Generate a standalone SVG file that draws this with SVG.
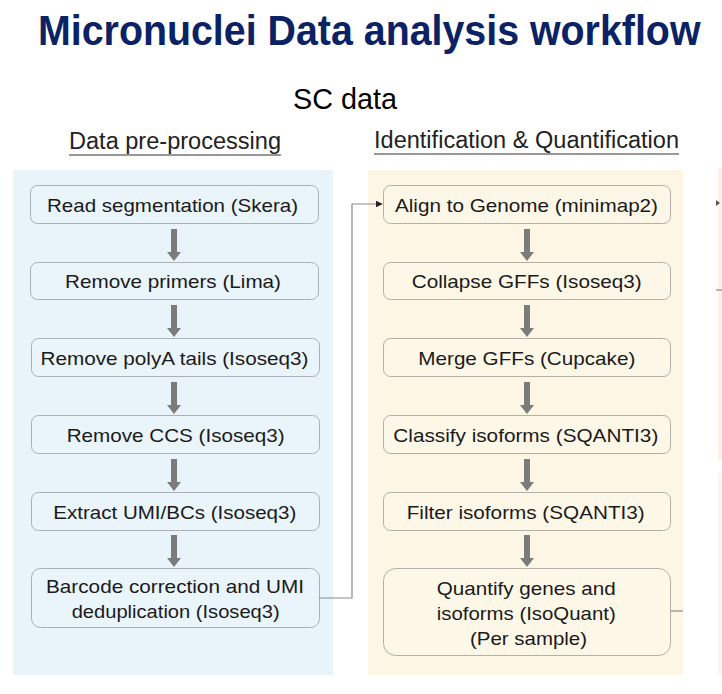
<svg xmlns="http://www.w3.org/2000/svg" width="722" height="694" viewBox="0 0 722 694">
<style>
.title{font-family:"Liberation Sans",Arial,sans-serif;font-weight:bold;font-size:42px;fill:#0b2265}
.sub{font-family:"Liberation Sans",Arial,sans-serif;font-size:29px;fill:#000}
.head{font-family:"Liberation Sans",Arial,sans-serif;font-size:23px;fill:#222}
.t{font-family:"Liberation Sans",Arial,sans-serif;font-size:18.5px;fill:#1a1a1a}
.boxL{fill:#eaf4fb;stroke:#a9b0b6;stroke-width:1}
.boxR{fill:#fdf7e8;stroke:#b3b0a8;stroke-width:1}
.arr{fill:#7b7b7b}
.conn{fill:none;stroke:#8a8a8a;stroke-width:1.2}
.ul{stroke:#333;stroke-width:1.2}
</style>
<defs>
<path id="dn" d="M-3,0 h6 v23 h4 l-7,9 l-7,-9 h4 z"/>
<marker id="tri" viewBox="0 0 10 10" refX="9" refY="5" markerWidth="7" markerHeight="7" markerUnits="userSpaceOnUse" orient="auto">
<path d="M0,0 L10,5 L0,10 z" fill="#222"/>
</marker>
</defs>
<rect width="722" height="694" fill="#fff"/>
<text class="title" transform="translate(38,45) scale(0.937,1)" x="0" y="0">Micronuclei Data analysis workflow</text>
<text class="sub" x="293" y="109" textLength="104" lengthAdjust="spacingAndGlyphs">SC data</text>
<text class="head" x="69" y="149" textLength="212" lengthAdjust="spacingAndGlyphs">Data pre-processing</text>
<line class="ul" x1="69" y1="155" x2="281" y2="155"/>
<text class="head" x="374" y="148" textLength="305" lengthAdjust="spacingAndGlyphs">Identification &amp; Quantification</text>
<line class="ul" x1="374" y1="154" x2="679" y2="154"/>
<g id="panel-left"><rect x="13" y="170" width="320" height="505" fill="#e9f3fa"/></g>
<g id="panel-right"><rect x="368" y="170" width="315" height="505" fill="#fdf6e4"/></g>
<g id="panel-edge">
<rect x="718" y="168" width="10" height="292" fill="#fdefea"/>
<rect x="718" y="473" width="10" height="202" fill="#f6f9f1"/>
<path d="M716,200 L720,203 L716,206 z" fill="#555"/>
<line x1="716" y1="290" x2="722" y2="290" stroke="#8a8a8a" stroke-width="1.2"/>
</g>
<g id="n1"><rect class="boxL" x="30.5" y="185.5" width="288" height="38" rx="7"/><text class="t" x="47" y="211.5" textLength="251" lengthAdjust="spacingAndGlyphs">Read segmentation (Skera)</text></g>
<g id="n2"><rect class="boxL" x="30.5" y="262.5" width="288" height="37" rx="7"/><text class="t" x="65" y="288.3" textLength="216" lengthAdjust="spacingAndGlyphs">Remove primers (Lima)</text></g>
<g id="n3"><rect class="boxL" x="31.5" y="338.5" width="288" height="38" rx="7"/><text class="t" x="40.5" y="365" textLength="268" lengthAdjust="spacingAndGlyphs">Remove polyA tails (Isoseq3)</text></g>
<g id="n4"><rect class="boxL" x="31.5" y="415.5" width="288" height="38" rx="7"/><text class="t" x="66.7" y="442.3" textLength="218" lengthAdjust="spacingAndGlyphs">Remove CCS (Isoseq3)</text></g>
<g id="n5"><rect class="boxL" x="31.5" y="492.5" width="288" height="38" rx="7"/><text class="t" x="53.3" y="519" textLength="243" lengthAdjust="spacingAndGlyphs">Extract UMI/BCs (Isoseq3)</text></g>
<g id="n6"><rect class="boxL" x="31.5" y="568.5" width="288" height="59" rx="9"/><text class="t" x="46" y="593.3" textLength="258" lengthAdjust="spacingAndGlyphs">Barcode correction and UMI</text><text class="t" x="71.7" y="618.3" textLength="208" lengthAdjust="spacingAndGlyphs">deduplication (Isoseq3)</text></g>
<g id="m1"><rect class="boxR" x="383.5" y="185.5" width="287" height="38" rx="7"/><text class="t" x="395" y="211.5" textLength="263" lengthAdjust="spacingAndGlyphs">Align to Genome (minimap2)</text></g>
<g id="m2"><rect class="boxR" x="383.5" y="262.5" width="287" height="37" rx="7"/><text class="t" x="411.7" y="288.3" textLength="230" lengthAdjust="spacingAndGlyphs">Collapse GFFs (Isoseq3)</text></g>
<g id="m3"><rect class="boxR" x="383.5" y="338.5" width="287" height="38" rx="7"/><text class="t" x="418.3" y="365" textLength="217" lengthAdjust="spacingAndGlyphs">Merge GFFs (Cupcake)</text></g>
<g id="m4"><rect class="boxR" x="383.5" y="415.5" width="287" height="38" rx="7"/><text class="t" x="393.3" y="442" textLength="265" lengthAdjust="spacingAndGlyphs">Classify isoforms (SQANTI3)</text></g>
<g id="m5"><rect class="boxR" x="383.5" y="492.5" width="287" height="38" rx="7"/><text class="t" x="406.7" y="519" textLength="238" lengthAdjust="spacingAndGlyphs">Filter isoforms (SQANTI3)</text></g>
<g id="m6"><rect class="boxR" x="383.5" y="568.5" width="287" height="87" rx="12"/><text class="t" x="436.7" y="595" textLength="179" lengthAdjust="spacingAndGlyphs">Quantify genes and</text><text class="t" x="436.7" y="620" textLength="179" lengthAdjust="spacingAndGlyphs">isoforms (IsoQuant)</text><text class="t" x="470" y="645" textLength="117" lengthAdjust="spacingAndGlyphs">(Per sample)</text></g>
<g id="connectors">
<use href="#dn" class="arr" transform="translate(174,229)"/>
<use href="#dn" class="arr" transform="translate(174,305)"/>
<use href="#dn" class="arr" transform="translate(174,382)"/>
<use href="#dn" class="arr" transform="translate(174,459)"/>
<use href="#dn" class="arr" transform="translate(174,535)"/>
<use href="#dn" class="arr" transform="translate(527,229)"/>
<use href="#dn" class="arr" transform="translate(527,305)"/>
<use href="#dn" class="arr" transform="translate(527,382)"/>
<use href="#dn" class="arr" transform="translate(527,459)"/>
<use href="#dn" class="arr" transform="translate(527,535)"/>
<path class="conn" d="M319,598 H352 V204 H382" marker-end="url(#tri)"/>
<path class="conn" d="M671,611 H683"/>
</g>
</svg>
